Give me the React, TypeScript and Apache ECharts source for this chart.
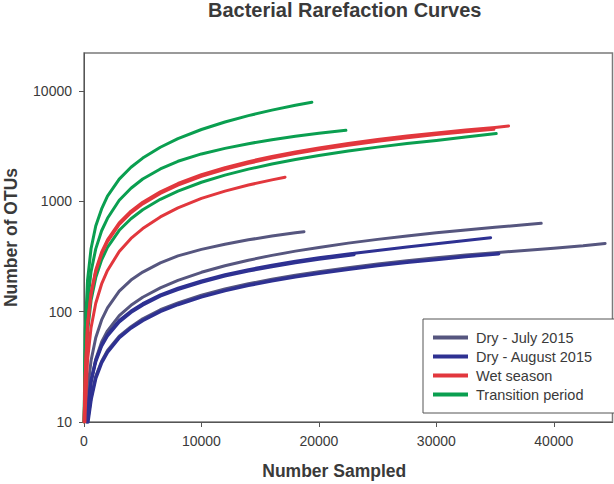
import React, { useEffect, useRef } from 'react';
import * as echarts from 'echarts';

const TITLE = 'Bacterial Rarefaction Curves';
const X_NAME = 'Number Sampled';
const Y_NAME = 'Number of OTUs';
const X_TICKS = [0, 10000, 20000, 30000, 40000];
const Y_TICKS = [10, 100, 1000, 10000];

const DRY_JULY = 'Dry - July 2015';
const DRY_AUG = 'Dry - August 2015';
const WET = 'Wet season';
const TRANS = 'Transition period';
const GROUPS = [DRY_JULY, DRY_AUG, WET, TRANS];

// Dry - July 2015 samples [number sampled, OTUs]
const JULY_A = [[150,10],[300,19],[600,36],[1000,58],[1500,84],[2000,108],[3000,153],[4000,193],[5000,228],[6500,276],[8000,320],[10000,366],[12000,408],[14000,447],[16000,483],[18000,517],[18730,530]];
const JULY_B = [[250,10],[300,12],[600,23],[1000,37],[1500,53],[2000,67],[3000,92],[4000,114],[5000,135],[6500,164],[8000,192],[10000,227],[12000,260],[14000,292],[16000,323],[18000,353],[20000,381],[22500,417],[25000,451],[27500,485],[30000,517],[32500,549],[35000,580],[37500,612],[38930,631]];
const JULY_C = [[300,10],[600,16.5],[1000,26],[1500,35.5],[2000,44.5],[3000,60],[4000,73],[5000,86],[6500,104],[8000,120],[10000,141],[12000,160],[14000,179],[16000,196],[18000,214],[20000,230],[22500,250],[25000,270],[27500,289],[30000,307],[32500,325],[35000,342],[37500,358],[40000,375],[42500,394],[44370,414]];

// Dry - August 2015 samples
const AUG_A = [[220,10],[300,13],[600,24],[1000,36.5],[1500,50],[2000,62],[3000,83],[4000,101],[5000,118],[6500,142],[8000,163],[10000,190],[12000,216],[14000,240],[16000,263],[18000,286],[20000,307],[22500,333],[25000,358],[27500,384],[30000,412],[32500,440],[34620,467]];
const AUG_B = [[240,10],[300,12.5],[600,23],[1000,35],[1500,48.5],[2000,60],[3000,80.5],[4000,98],[5000,114.5],[6500,138],[8000,158],[10000,184],[12000,209.5],[14000,233],[16000,255],[18000,277],[20000,298],[23000,328]];
const AUG_C = [[330,10],[600,16],[1000,25],[1500,34.5],[2000,43],[3000,58],[4000,71],[5000,83],[6500,100.5],[8000,116],[10000,136],[12000,155],[14000,173],[16000,190],[18000,207],[20000,223],[22500,242],[25000,261],[27500,280],[30000,297],[32500,315],[35300,334]];

// Wet season samples
const WET_A = [[10,10],[100,26],[300,77],[600,148],[1000,238],[1500,345],[2000,446],[3000,638],[4000,812],[5000,980],[6500,1217],[8000,1446],[10000,1736],[12000,2016],[14000,2284],[16000,2542],[18000,2794],[20000,3038],[22500,3329],[25000,3614],[27500,3889],[30000,4157],[32500,4420],[35000,4660],[36150,4800]];
const WET_B = [[10,10],[100,25],[300,74],[600,143],[1000,230],[1500,333],[2000,431],[3000,616],[4000,785],[5000,946],[6500,1175],[8000,1397],[10000,1677],[12000,1947],[14000,2206],[16000,2455],[18000,2698],[20000,2933],[22500,3215],[25000,3490],[27500,3756],[30000,4015],[32500,4260],[34900,4480]];
const WET_C = [[80,10],[100,12],[300,36],[600,71.5],[1000,119],[1500,178],[2000,236],[3000,350],[4000,460],[5000,565],[6500,720],[8000,870],[10000,1060],[12000,1235],[14000,1400],[16000,1560],[17120,1650]];

// Transition period samples
const TRANS_A = [[10,10],[100,66],[300,192],[600,371],[1000,596],[1500,850],[2000,1113],[3000,1585],[4000,2029],[5000,2458],[6500,3081],[8000,3684],[10000,4463],[12000,5221],[14000,5961],[16000,6685],[18000,7399],[19400,7880]];
const TRANS_B = [[10,10],[100,40],[300,118],[600,230],[1000,370],[1500,540],[2000,700],[3000,1020],[4000,1310],[5000,1590],[6500,1960],[8000,2300],[10000,2680],[12000,3010],[14000,3320],[16000,3610],[18000,3880],[20000,4130],[22300,4385]];
const TRANS_C = [[10,10],[100,22],[300,65],[600,126],[1000,203],[1500,294],[2000,381],[3000,545],[4000,694],[5000,837],[6500,1040],[8000,1236],[10000,1484],[12000,1723],[14000,1952],[16000,2173],[18000,2388],[20000,2596],[22500,2845],[25000,3089],[27500,3324],[30000,3553],[32500,3810],[35100,4100]];

const COLORS: Record<string, string> = {
  [DRY_JULY]: '#56567f',
  [DRY_AUG]: '#2e3192',
  [WET]: '#e2373d',
  [TRANS]: '#0a9f50',
};

const CURVES: [string, number[][], number][] = [
  [DRY_JULY, JULY_A, 3],
  [DRY_JULY, JULY_B, 3],
  [DRY_JULY, JULY_C, 3],
  [DRY_AUG, AUG_A, 3],
  [DRY_AUG, AUG_B, 3],
  [DRY_AUG, AUG_C, 3.5],
  [TRANS, TRANS_A, 3],
  [TRANS, TRANS_B, 3],
  [TRANS, TRANS_C, 3],
  [WET, WET_C, 3],
  [WET, WET_B, 3],
  [WET, WET_A, 3],
];

const FONT = '"Liberation Sans", Arial, Helvetica, sans-serif';

export default function App() {
  const ref = useRef<HTMLDivElement>(null);
  useEffect(() => {
    if (!ref.current) return;
    const chart = echarts.init(ref.current, undefined, { renderer: 'svg' });
    chart.setOption({
      animation: false,
      backgroundColor: '#ffffff',
      textStyle: { fontFamily: FONT },
      title: {
        text: TITLE,
        left: 208,
        top: 0,
        padding: 0,
        textStyle: { fontSize: 20, fontWeight: 'bold', color: '#3a3a3a', fontFamily: FONT },
      },
      grid: {
        left: 84, right: 1.5, top: 53, bottom: 62,
        outerBoundsMode: 'none',
        containLabel: false,
        show: true, borderColor: '#7a7a7a', borderWidth: 1.5, backgroundColor: 'transparent',
      },
      legend: {
        data: GROUPS,
        orient: 'vertical',
        left: 423,
        top: 319,
        padding: [11, 25, 11, 10],
        itemGap: 4,
        itemWidth: 35,
        itemHeight: 4,
        icon: 'rect',
        borderColor: '#555555',
        borderWidth: 1,
        backgroundColor: '#ffffff',
        textStyle: { fontSize: 14.5, color: '#3a3a3a', fontFamily: FONT, padding: [0, 0, 0, 3] },
      },
      xAxis: {
        type: 'value',
        min: 0,
        max: 45000,
        interval: 10000,
        name: X_NAME,
        nameLocation: 'middle',
        nameGap: 40,
        nameTextStyle: { fontSize: 17.5, fontWeight: 'bold', color: '#3a3a3a', fontFamily: FONT, padding: [0, 28, 0, 0] },
        axisLine: { show: true, lineStyle: { color: '#555555', width: 1 } },
        axisTick: { show: true, length: 5, inside: false, customValues: X_TICKS, lineStyle: { color: '#555555' } },
        axisLabel: { customValues: X_TICKS, margin: 12, fontSize: 14, color: '#3a3a3a', fontFamily: FONT, formatter: (v: number) => String(v) },
        splitLine: { show: false },
      },
      yAxis: {
        type: 'log',
        logBase: 10,
        min: 10,
        max: 22000,
        name: Y_NAME,
        nameLocation: 'middle',
        nameRotate: 90,
        nameGap: 64,
        nameTextStyle: { fontSize: 17.5, fontWeight: 'bold', color: '#3a3a3a', fontFamily: FONT },
        axisLine: { show: true, lineStyle: { color: '#555555', width: 1 } },
        axisTick: { show: true, length: 5, inside: false, customValues: Y_TICKS, lineStyle: { color: '#555555' } },
        axisLabel: { customValues: Y_TICKS, margin: 12, fontSize: 14, color: '#3a3a3a', fontFamily: FONT, formatter: (v: number) => String(Math.round(v)) },
        splitLine: { show: false },
        minorTick: { show: false },
      },
      series: CURVES.map(([group, data, width]) => ({
        type: 'line',
        name: group,
        data,
        showSymbol: false,
        symbol: 'none',
        smooth: false,
        color: COLORS[group],
        lineStyle: { color: COLORS[group], width, join: 'round', cap: 'round' },
        emphasis: { disabled: true },
      })),
    });
    return () => chart.dispose();
  }, []);
  return <div ref={ref} style={{ position: 'fixed', left: 0, top: 0, width: 614, height: 484 }} />;
}
